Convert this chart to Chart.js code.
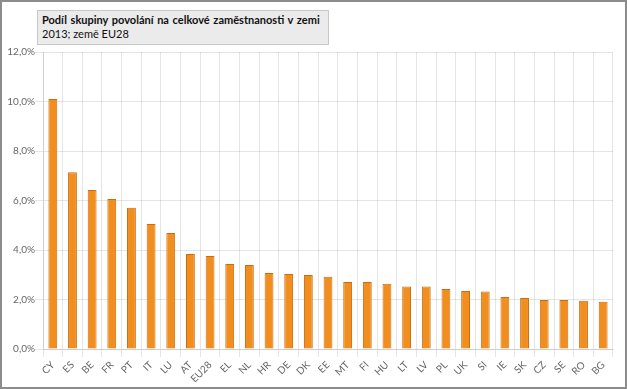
<!DOCTYPE html>
<html>
<head>
<meta charset="utf-8">
<script src="https://cdn.jsdelivr.net/npm/chart.js@4/dist/chart.umd.min.js"></script>
<style>
  body { margin: 0; background: #fff; }
  #wrap { position: relative; width: 627px; height: 389px; }
  #frame { position: absolute; left: 0; top: 0; width: 623px; height: 385px; border: 2px solid #8c8c8c; pointer-events: none; }
  #title { position: absolute; left: 37px; top: 10px; width: 282px; height: 29px; padding: 2px 4px; background: #ebebeb; border: 1px solid #c8c8c8; font-family: Lato, sans-serif; font-size: 11px; line-height: 14px; color: #111; }
  #title b { word-spacing: 1px; }
</style>
</head>
<body>
<div id="wrap">
  <canvas id="chart" width="627" height="389"></canvas>
  <div id="title"><b>Podíl skupiny povolání na celkové zaměstnanosti v zemi</b><br>2013; země EU28</div>
  <div id="frame"></div>
</div>
<script>
// země
const countries = ['CY', 'ES', 'BE', 'FR', 'PT', 'IT', 'LU', 'AT', 'EU28', 'EL', 'NL', 'HR', 'DE', 'DK',
    'EE', 'MT', 'FI', 'HU', 'LT', 'LV', 'PL', 'UK', 'SI', 'IE', 'SK', 'CZ', 'SE', 'RO', 'BG'];
// podíl v %
const shares = [10.1, 7.14, 6.42, 6.06, 5.71, 5.05, 4.69, 3.84, 3.76, 3.43, 3.39, 3.07, 3.03, 2.99,
    2.92, 2.71, 2.71, 2.64, 2.53, 2.53, 2.42, 2.34, 2.32, 2.10, 2.06, 1.98, 1.98, 1.95, 1.91];
const yTicks = [0, 2, 4, 6, 8, 10, 12];

const font = { family: 'Lato, sans-serif', size: 10 };

new Chart(document.getElementById('chart'), {
    type: 'bar',
    data: {
        labels: countries,
        datasets: [{
            data: shares,
            backgroundColor: '#f28e1e',
            borderColor: '#c86d12',
            borderWidth: 1,
            barPercentage: 0.45,
            categoryPercentage: 1
        }]
    },
    options: {
        responsive: false,
        animation: false,
        layout: { padding: { top: 52, right: 14, left: 0, bottom: 0 } },
        plugins: {
            legend: { display: false }
        },
        scales: {
            x: {
                ticks: { font: font, autoSkip: false, minRotation: 45, maxRotation: 45, padding: 2 },
                afterFit: function(scale) { scale.height = 40; }
            },
            y: {
                min: 0,
                max: 12,
                afterBuildTicks: function(scale) { scale.ticks = yTicks.map(v => ({ value: v })); },
                ticks: {
                    font: font,
                    padding: 0,
                    callback: v => v.toFixed(1).replace('.', ',') + '%'
                },
                afterFit: function(scale) { scale.width = 43; }
            }
        }
    }
});
</script>
</body>
</html>
